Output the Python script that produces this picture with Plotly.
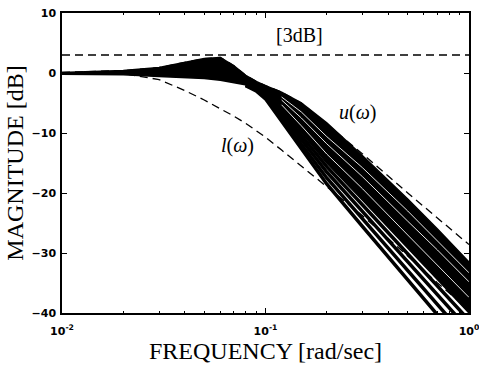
import plotly.graph_objects as go

# ---- data ----
freq = [0.01, 0.02, 0.03, 0.04, 0.05, 0.06, 0.07, 0.08, 0.09, 0.1,
        0.12, 0.15, 0.2, 0.3, 0.5, 0.7, 1.0]
band_top = [0.1, 0.4, 0.9, 1.8, 2.4, 2.6, 1.2, -0.4, -1.4, -2.1,
            -3.2, -5.0, -8.3, -13.8, -21.0, -26.0, -31.5]
band_low = [-0.2, -0.3, -0.6, -0.7, -0.9, -1.2, -1.6, -1.9, -2.3, -2.9,
            -5.9, -9.9, -15.0, -21.2, -29.2, -34.5, -40.0]
upper_bound = [0.1, 0.4, 0.9, 1.8, 2.4, 2.6, 1.2, -0.4, -1.4, -2.1,
               -3.2, -5.0, -8.5, -13.5, -20.0, -24.2, -28.6]
lower_bound = [0.0, -0.1, -1.1, -2.9, -4.5, -5.9, -7.2, -8.4, -9.6, -10.7,
               -12.85, -15.5, -18.9, -23.8, -30.5, -35.0, -39.5]

freq_hi = [0.08, 0.09, 0.1, 0.12, 0.15, 0.2, 0.3, 0.5, 0.7, 1.0]
curve_0 = [-2.1, -3.0, -4.3, -8.0, -12.7, -18.5, -25.6, -34.4, -40.3, -46.5]
curve_1 = [-2.05, -2.8, -3.9, -7.4, -11.9, -17.5, -24.3, -32.9, -38.6, -44.6]
curve_2 = [-2.0, -2.6, -3.5, -6.8, -11.1, -16.5, -23.1, -31.4, -37.0, -42.8]
curve_3 = [-1.95, -2.45, -3.2, -6.3, -10.4, -15.6, -22.0, -30.2, -35.6, -41.2]

freq_gap = [0.12, 0.15, 0.2, 0.3, 0.5, 0.7, 1.0]
gap_1 = [-5.3, -8.8, -13.5, -19.3, -27.0, -32.0, -37.4]
gap_2 = [-4.5, -7.5, -11.8, -17.3, -24.7, -29.5, -34.8]
gap_3 = [-4.0, -6.5, -10.6, -15.8, -23.0, -28.0, -33.3]

three_db = 3
x_ticks = [0.01, 0.1, 1]
x_ticktext = ["10<sup>-2</sup>", "10<sup>-1</sup>", "10<sup>0</sup>"]
y_ticks = [-40, -30, -20, -10, 0, 10]
minor_x = [0.02, 0.03, 0.04, 0.05, 0.06, 0.07, 0.08, 0.09,
           0.2, 0.3, 0.4, 0.5, 0.6, 0.7, 0.8, 0.9]

DASH = "8px,5px"
fig = go.Figure()

# 3 dB line
fig.add_trace(go.Scatter(x=[freq[0], freq[-1]], y=[three_db, three_db], mode="lines",
                         line=dict(color="black", width=1.3, dash=DASH), hoverinfo="skip"))
# bounds
fig.add_trace(go.Scatter(x=freq, y=upper_bound, mode="lines",
                         line=dict(color="black", width=1.3, dash=DASH)))
fig.add_trace(go.Scatter(x=freq, y=lower_bound, mode="lines",
                         line=dict(color="black", width=1.3, dash=DASH)))
# dense band of responses
fig.add_trace(go.Scatter(x=freq, y=band_low, mode="lines",
                         line=dict(color="black", width=1.5)))
fig.add_trace(go.Scatter(x=freq, y=band_top, mode="lines", fill="tonexty",
                         fillcolor="black", line=dict(color="black", width=1.5)))
# separated individual responses
for c in [curve_0, curve_1, curve_2, curve_3]:
    fig.add_trace(go.Scatter(x=freq_hi, y=c, mode="lines",
                             line=dict(color="black", width=3.5)))
# thin gaps between responses inside the dense band
for g in [gap_1, gap_2, gap_3]:
    fig.add_trace(go.Scatter(x=freq_gap, y=g, mode="lines",
                             line=dict(color="white", width=0.9)))

serif = "Liberation Serif"
fig.add_annotation(x=-0.833, y=6.3, text="[3dB]", showarrow=False,
                   font=dict(family=serif, size=20, color="black"))
fig.add_annotation(x=-0.549, y=-6.5, text="<i>u</i>(<i>ω</i>)", showarrow=False,
                   font=dict(family=serif, size=20, color="black"))
fig.add_annotation(x=-1.137, y=-12.0, text="<i>l</i>(<i>ω</i>)", showarrow=False,
                   font=dict(family=serif, size=20, color="black"))

tickfont = dict(family="DejaVu Sans", size=11, color="black", weight="bold")
fig.update_xaxes(type="log", range=[-2, 0], tickvals=x_ticks, ticktext=x_ticktext,
                 ticks="inside", ticklen=5, tickwidth=1, tickcolor="black",
                 showline=True, linecolor="black", linewidth=1.5, mirror="ticks",
                 showgrid=False, zeroline=False, tickfont=tickfont, automargin=False,
                 ticklabeloverflow="allow", ticklabelstandoff=7,
                 minor=dict(tickvals=minor_x, ticks="inside", ticklen=2.5,
                            tickcolor="black", showgrid=False),
                 title=dict(text="FREQUENCY [rad/sec]", standoff=3,
                            font=dict(family=serif, size=24, color="black")))
fig.update_yaxes(range=[-40, 10], tickvals=y_ticks,
                 ticks="inside", ticklen=5, tickwidth=1, tickcolor="black",
                 showline=True, linecolor="black", linewidth=1.5, mirror="ticks",
                 showgrid=False, zeroline=False, tickfont=tickfont, automargin=False,
                 ticklabeloverflow="allow", ticklabelstandoff=2,
                 title=dict(text="MAGNITUDE [dB]", standoff=1,
                            font=dict(family=serif, size=24, color="black")))
fig.update_layout(width=479, height=365, showlegend=False,
                  margin=dict(l=62, r=10, t=13, b=52),
                  paper_bgcolor="white", plot_bgcolor="white")
fig.write_html("out.html", config={"displayModeBar": False},
               post_script="document.body.style.margin='0';")
